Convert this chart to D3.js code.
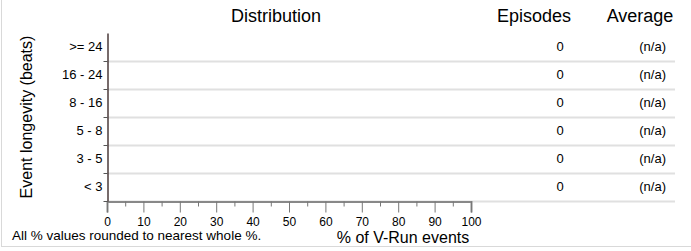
<!DOCTYPE html>
<html>
<head>
<meta charset="utf-8">
<script src="https://cdn.jsdelivr.net/npm/d3@7"></script>
<style>
  body { margin: 0; background: #fff; }
  text { font-family: "Liberation Sans", Arial, sans-serif; fill: #000; }
</style>
</head>
<body>
<div class="chart"></div>
<script>
var svgWidth = 691;
var svgHeight = 251;

// data, top row first
var categories = [">= 24", "16 - 24", "8 - 16", "5 - 8", "3 - 5", "< 3"];
var distribution = [0, 0, 0, 0, 0, 0];
var episodes = [0, 0, 0, 0, 0, 0];
var averages = ["(n/a)", "(n/a)", "(n/a)", "(n/a)", "(n/a)", "(n/a)"];
var majorTicks = [0, 10, 20, 30, 40, 50, 60, 70, 80, 90, 100];
var minorTicks = [5, 15, 25, 35, 45, 55, 65, 75, 85, 95];

var plot = { left: 107, right: 471, top: 33, bottom: 201 };
var gridRight = 675;

var svg = d3
  .select(".chart")
  .append("svg")
  .attr("width", svgWidth)
  .attr("height", svgHeight);

// frame
svg.append("rect")
  .attr("x", 1.5).attr("y", -2)
  .attr("width", svgWidth + 5).attr("height", 248.5)
  .attr("fill", "none").attr("stroke", "#d9d9d9");

var yScale = d3.scaleBand()
  .domain(categories)
  .range([plot.top, plot.bottom]);

var xScale = d3.scaleLinear()
  .domain([0, 100])
  .range([plot.left, plot.right]);

// row separator lines
var bounds = categories.map(function(c) { return yScale(c) + yScale.bandwidth(); });

svg.append("g")
  .selectAll("line")
  .data(bounds)
  .enter()
  .append("line")
  .attr("x1", plot.left)
  .attr("x2", gridRight)
  .attr("y1", function(d) { return d + 0.5; })
  .attr("y2", function(d) { return d + 0.5; })
  .attr("stroke", "#e0e0e0")
  .attr("stroke-width", 2);

// bars (all zero)
svg.append("g")
  .selectAll("rect")
  .data(distribution)
  .enter()
  .append("rect")
  .attr("x", plot.left)
  .attr("y", function(d, i) { return yScale(categories[i]) + 5; })
  .attr("width", function(d) { return xScale(d) - plot.left; })
  .attr("height", yScale.bandwidth() - 10)
  .attr("fill", "#4f81bd");

// x axis, major then minor ticks
var bottomAxis = d3.axisBottom(xScale)
  .tickValues(majorTicks)
  .tickSize(11)
  .tickPadding(5)
  .tickFormat(d3.format("d"));

var xAxis = svg.append("g")
  .attr("transform", "translate(0," + (plot.bottom + 0.5) + ")")
  .call(bottomAxis);
xAxis.select(".domain").attr("stroke", "#888").attr("stroke-width", 2);
xAxis.selectAll(".tick line").attr("stroke", "#777");
xAxis.selectAll("text").style("font-size", "12px");

var minorAxis = d3.axisBottom(xScale)
  .tickValues(minorTicks)
  .tickSize(5)
  .tickFormat("");

var xMinor = svg.append("g")
  .attr("transform", "translate(0," + (plot.bottom + 0.5) + ")")
  .call(minorAxis);
xMinor.select(".domain").remove();
xMinor.selectAll(".tick line").attr("stroke", "#777");

// y axis
var leftAxis = d3.axisLeft(yScale).tickSize(0).tickPadding(5);
var yAxis = svg.append("g")
  .attr("transform", "translate(" + (plot.left + 0.5) + ",0)")
  .call(leftAxis);
yAxis.select(".domain").attr("stroke", "#4a3a3a").attr("stroke-width", 1.5);
yAxis.selectAll("text").style("font-size", "13px");

yAxis.selectAll(".bound")
  .data(bounds)
  .enter()
  .append("line")
  .attr("class", "bound")
  .attr("x1", -4)
  .attr("x2", 0)
  .attr("y1", function(d) { return d + 0.5; })
  .attr("y2", function(d) { return d + 0.5; })
  .attr("stroke", "#555");

// right-hand columns
svg.append("g")
  .selectAll("text")
  .data(episodes)
  .enter()
  .append("text")
  .attr("x", 560)
  .attr("y", function(d, i) { return yScale(categories[i]) + yScale.bandwidth() / 2; })
  .attr("dy", "0.3em")
  .attr("text-anchor", "middle")
  .style("font-size", "13px")
  .text(function(d) { return d; });

svg.append("g")
  .selectAll("text")
  .data(averages)
  .enter()
  .append("text")
  .attr("x", 666)
  .attr("y", function(d, i) { return yScale(categories[i]) + yScale.bandwidth() / 2; })
  .attr("dy", "0.3em")
  .attr("text-anchor", "end")
  .style("font-size", "13px")
  .text(function(d) { return d; });

// headers and titles
svg.append("text")
  .attr("x", 276)
  .attr("y", 22)
  .attr("text-anchor", "middle")
  .style("font-size", "18px")
  .text("Distribution");

svg.append("text")
  .attr("x", 534)
  .attr("y", 22)
  .attr("text-anchor", "middle")
  .style("font-size", "18px")
  .text("Episodes");

svg.append("text")
  .attr("x", 640)
  .attr("y", 22)
  .attr("text-anchor", "middle")
  .style("font-size", "18px")
  .text("Average");

svg.append("text")
  .attr("transform", "translate(32," + ((plot.top + plot.bottom) / 2) + ") rotate(-90)")
  .attr("text-anchor", "middle")
  .style("font-size", "16px")
  .text("Event longevity (beats)");

svg.append("text")
  .attr("x", 403)
  .attr("y", 243)
  .attr("text-anchor", "middle")
  .style("font-size", "16px")
  .text("% of V-Run events");

svg.append("text")
  .attr("x", 12)
  .attr("y", 240)
  .style("font-size", "13.5px")
  .text("All % values rounded to nearest whole %.");
</script>
</body>
</html>
